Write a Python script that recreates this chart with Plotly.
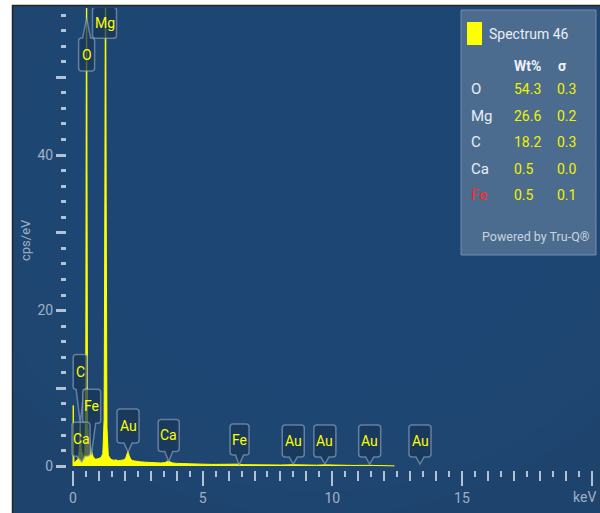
import plotly.graph_objects as go

# ---- spectrum (energy in keV, intensity in cps/eV) ----
energy_kev = [0.00, 0.01, 0.02, 0.04, 0.08, 0.12, 0.16, 0.20, 0.24, 0.26, 0.277, 0.29, 0.31,
              0.33, 0.341, 0.355, 0.38, 0.42, 0.46, 0.49, 0.51, 0.525, 0.54, 0.56, 0.60, 0.64,
              0.68, 0.705, 0.73, 0.78, 0.85, 0.92, 1.00, 1.08, 1.15, 1.20, 1.23, 1.254, 1.28,
              1.31, 1.36, 1.45, 1.55, 1.65, 1.75, 1.85, 1.95, 2.03, 2.08, 2.12, 2.16, 2.22,
              2.30, 2.45, 2.60, 2.80, 3.00, 3.20, 3.40, 3.55, 3.65, 3.69, 3.73, 3.85, 4.00,
              4.30, 4.60, 5.00, 5.40, 5.80, 6.20, 6.35, 6.40, 6.45, 6.60, 7.00, 7.50, 8.00,
              8.49, 9.00, 9.40, 9.71, 10.2, 10.8, 11.44, 12.0, 12.4]
counts_cps = [0.0, 7.8, 2.0, 0.4, 0.5, 0.6, 0.8, 1.0, 2.0, 4.0, 5.6, 4.0, 2.0,
              1.5, 1.9, 1.4, 1.2, 1.3, 1.8, 8.0, 40.0, 75.0, 38.0, 6.0, 1.8, 1.5,
              1.8, 2.2, 1.7, 1.2, 0.9, 0.9, 1.0, 1.1, 1.6, 6.0, 35.0, 72.0, 34.0,
              5.0, 1.4, 0.9, 0.75, 0.8, 0.7, 0.75, 0.8, 1.0, 1.5, 1.9, 1.4, 0.9,
              0.7, 0.6, 0.55, 0.5, 0.45, 0.45, 0.4, 0.45, 0.6, 0.7, 0.55, 0.4, 0.35,
              0.3, 0.28, 0.25, 0.22, 0.2, 0.2, 0.25, 0.3, 0.22, 0.18, 0.16, 0.15, 0.14,
              0.18, 0.13, 0.12, 0.16, 0.1, 0.09, 0.1, 0.06, 0.03]

# ---- peak identification labels ----
label_names = ["O", "Mg", "C", "Fe", "Ca", "Au", "Ca", "Fe", "Au", "Au", "Au", "Au"]
label_energies = [0.525, 1.254, 0.277, 0.705, 0.341, 2.123, 3.691, 6.404, 8.494, 9.713, 11.442, 13.382]
label_tip_cps = [57.6, 55.0, 5.6, 1.4, 0.5, 1.8, 0.6, 0.13, 0.26, 0.26, 0.26, 0.26]
# callout geometry in pixels: (x offset of box, gap tip->box, width, height, tip direction)
label_geom = [(0, 20, 16, 33, "up"), (-1, 0, 24, 31, "none"), (0, 33, 14, 35, "down"),
              (0.4, 32, 18, 34, "down"), (-0.8, 6, 18, 34, "down"), (0, 9, 22, 34, "down"),
              (0, 10, 21, 32, "down"), (0.5, 10, 19, 31, "down"), (0, 7, 22, 32, "down"),
              (0, 7, 22, 32, "down"), (0, 7, 22, 32, "down"), (0, 7, 22, 32, "down")]

# ---- quantification table ----
table_title = "Spectrum 46"
table_elements = ["O", "Mg", "C", "Ca", "Fe"]
table_wt = ["54.3", "26.6", "18.2", "0.5", "0.5"]
table_sigma = ["0.3", "0.2", "0.3", "0.0", "0.1"]
table_element_colors = ["#e8eef5", "#e8eef5", "#e8eef5", "#e8eef5", "#ff2a2a"]

# axis ticks and labels
x_label_vals = [0, 5, 10, 15, 20]
x_label_text = ["0", "5", "10", "15", ""]
x_unit = "keV"
y_major_vals = [0, 10, 20, 30, 40, 50]
y_major_text = ["0", "", "20", "", "40", ""]
y_title = "cps/eV"

FONT = "Roboto"
YELLOW = "#ffff00"
TICK = "#b3c2d3"
TICKTXT = "#9fb1c6"

# plot area in pixels
L, R, T, B = 67, 4, 8, 43
W, H = 600, 513
PW, PH = W - L - R, H - T - B


def px(xp):
    return (xp - L) / PW


def py(yp):
    return (H - B - yp) / PH


def callout_path(dx, gap, w, h, direction, tw=4, r=3):
    a, b = dx - w / 2, dx + w / 2
    if direction == "up":
        c, d = -gap - h, -gap
        return (f"M{a + r},{d} L{dx - tw},{d} L0,0 L{dx + tw},{d} L{b - r},{d} Q{b},{d} {b},{d - r} "
                f"L{b},{c + r} Q{b},{c} {b - r},{c} L{a + r},{c} Q{a},{c} {a},{c + r} "
                f"L{a},{d - r} Q{a},{d} {a + r},{d} Z")
    c, d = gap, gap + h
    tip = f"L{dx + tw},{c} L0,0 L{dx - tw},{c} " if direction == "down" else ""
    return (f"M{a + r},{d} L{b - r},{d} Q{b},{d} {b},{d - r} L{b},{c + r} Q{b},{c} {b - r},{c} "
            f"{tip}L{a + r},{c} Q{a},{c} {a},{c + r} L{a},{d - r} Q{a},{d} {a + r},{d} Z")


fig = go.Figure()
fig.add_trace(go.Scatter(x=energy_kev, y=counts_cps, mode="lines", fill="tozeroy",
                         line=dict(color=YELLOW, width=1), fillcolor=YELLOW,
                         hoverinfo="skip", showlegend=False))
fig.add_trace(go.Scatter(x=[], y=[], xaxis="x2", showlegend=False))

shapes = []
# dark blue panel with a soft radial highlight built from faint stacked ellipses
shapes.append(dict(type="rect", xref="paper", yref="paper", x0=px(12), x1=px(600), y0=py(513), y1=py(6),
                   fillcolor="#1e436d", line_width=0, layer="below"))
cx, cy = 320, 180
for k in range(14):
    rx = 420 - k * 28
    ry = 360 - k * 24
    shapes.append(dict(type="circle", xref="paper", yref="paper", x0=px(cx - rx), x1=px(cx + rx),
                       y0=py(cy + ry), y1=py(cy - ry), fillcolor="rgba(48,100,148,0.045)",
                       line_width=0, layer="below"))
# white margins and frame lines
shapes.append(dict(type="rect", xref="paper", yref="paper", x0=px(-5), x1=px(12), y0=py(520), y1=py(-5),
                   fillcolor="white", line_width=0, layer="below"))
shapes.append(dict(type="rect", xref="paper", yref="paper", x0=px(-5), x1=px(605), y0=py(5), y1=py(-5),
                   fillcolor="white", line_width=0, layer="below"))
shapes.append(dict(type="rect", xref="paper", yref="paper", x0=px(-5), x1=px(605), y0=py(560), y1=py(513),
                   fillcolor="white", line_width=0, layer="below"))
shapes.append(dict(type="line", xref="paper", yref="paper", x0=px(12.5), x1=px(12.5), y0=py(513), y1=py(5),
                   line=dict(color="#262626", width=1.5), layer="below"))
shapes.append(dict(type="line", xref="paper", yref="paper", x0=px(12), x1=px(600), y0=py(5.5), y1=py(5.5),
                   line=dict(color="#262626", width=1.5), layer="below"))

# peak callouts
annotations = []
for name, e, tip, (dx, gap, w, h, direction) in zip(label_names, label_energies, label_tip_cps, label_geom):
    shapes.append(dict(type="path", xref="x", yref="y", xsizemode="pixel", ysizemode="pixel",
                       xanchor=e, yanchor=tip, path=callout_path(dx, gap, w, h, direction),
                       fillcolor="rgba(24,52,86,0.72)", line=dict(color="rgba(150,170,195,0.6)", width=1.5),
                       layer="above"))
    yshift = -(gap + h / 2) if direction == "up" else gap + h / 2
    annotations.append(dict(x=e, y=tip, xref="x", yref="y", text=name, showarrow=False,
                            xshift=dx, yshift=yshift, xanchor="center", yanchor="middle",
                            font=dict(family=FONT, size=14, color=YELLOW)))

# quantification panel
shapes.append(dict(type="rect", xref="paper", yref="paper", x0=px(461), x1=px(596), y0=py(255), y1=py(10),
                   fillcolor="rgba(80,110,145,0.94)", line=dict(color="rgba(130,155,185,0.8)", width=1),
                   layer="above"))
shapes.append(dict(type="rect", xref="paper", yref="paper", x0=px(467), x1=px(482), y0=py(45), y1=py(22),
                   fillcolor=YELLOW, line_width=0, layer="above"))
annotations.append(dict(x=px(487), y=py(34), xref="paper", yref="paper", text=table_title, showarrow=False,
                        xanchor="left", yanchor="middle", font=dict(family=FONT, size=14, color="#e8eef5")))
annotations.append(dict(x=px(512), y=py(66), xref="paper", yref="paper", text="<b>Wt%</b>", showarrow=False,
                        xanchor="left", yanchor="middle", font=dict(family=FONT, size=14, color="#eef2f7")))
annotations.append(dict(x=px(556), y=py(66), xref="paper", yref="paper", text="<b>σ</b>", showarrow=False,
                        xanchor="left", yanchor="middle", font=dict(family=FONT, size=14, color="#eef2f7")))
row_y = [89, 116, 142, 169, 195]
for el, wt, sg, col, yy in zip(table_elements, table_wt, table_sigma, table_element_colors, row_y):
    annotations.append(dict(x=px(469), y=py(yy), xref="paper", yref="paper", text=el, showarrow=False,
                            xanchor="left", yanchor="middle", font=dict(family=FONT, size=15, color=col)))
    annotations.append(dict(x=px(512), y=py(yy), xref="paper", yref="paper", text=wt, showarrow=False,
                            xanchor="left", yanchor="middle", font=dict(family=FONT, size=14, color="#f2f200")))
    annotations.append(dict(x=px(555), y=py(yy), xref="paper", yref="paper", text=sg, showarrow=False,
                            xanchor="left", yanchor="middle", font=dict(family=FONT, size=14, color="#f2f200")))
annotations.append(dict(x=px(592), y=py(236), xref="paper", yref="paper", text="Powered by Tru-Q®",
                        showarrow=False, xanchor="right", yanchor="middle",
                        font=dict(family=FONT, size=12.5, color="#c9d3de")))

# axis titles
annotations.append(dict(x=px(25), y=py(240), xref="paper", yref="paper", text=y_title, showarrow=False,
                        textangle=-90, xanchor="center", yanchor="middle",
                        font=dict(family=FONT, size=13, color=TICKTXT)))
annotations.append(dict(x=px(598), y=py(497), xref="paper", yref="paper", text=x_unit, showarrow=False,
                        xanchor="right", yanchor="middle",
                        font=dict(family=FONT, size=14, color=TICKTXT)))

x_range = [(L - 73) / 25.93, (W - R - 73) / 25.93]
y_range = [-0.5, 58.9]

fig.update_layout(
    width=W, height=H, margin=dict(l=L, r=R, t=T, b=B),
    paper_bgcolor="white", plot_bgcolor="rgba(0,0,0,0)",
    shapes=shapes, annotations=annotations, showlegend=False,
    xaxis=dict(range=x_range, showgrid=False, zeroline=False, showline=False,
               ticks="outside", tickmode="linear", tick0=0, dtick=1, ticklen=10, tickwidth=2,
               tickcolor=TICK, showticklabels=False,
               minor=dict(ticks="outside", tick0=0, dtick=0.5, ticklen=6, tickwidth=2, tickcolor=TICK)),
    xaxis2=dict(range=x_range, overlaying="x", anchor="y", side="bottom", showgrid=False, zeroline=False,
                showline=False, ticks="outside", tickvals=x_label_vals, ticktext=x_label_text,
                ticklen=15, tickwidth=2, tickcolor=TICK,
                tickfont=dict(family=FONT, size=14, color=TICKTXT)),
    yaxis=dict(range=y_range, showgrid=False, zeroline=False, showline=False,
               ticks="outside", tickvals=y_major_vals, ticktext=y_major_text, ticklen=10, tickwidth=3,
               tickcolor=TICK, tickfont=dict(family=FONT, size=14, color=TICKTXT),
               minor=dict(ticks="outside", tick0=0, dtick=2, ticklen=5, tickwidth=3, tickcolor=TICK)),
)

fig.write_html("out.html")
